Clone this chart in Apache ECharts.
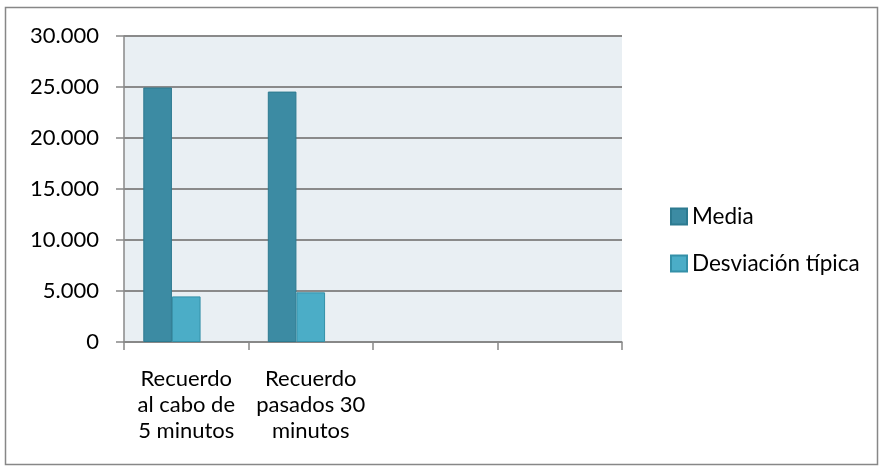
<!DOCTYPE html>
<html><head><meta charset="utf-8">
<script src="https://cdn.jsdelivr.net/npm/echarts@6/dist/echarts.min.js"></script>
<style>html,body{margin:0;padding:0;background:#fff}#c{width:882px;height:469px}</style>
</head><body><div id="c"></div>
<script>
var categories = ['Recuerdo\nal cabo de\n5 minutos', 'Recuerdo\npasados 30\nminutos', '', ''];
var media = [24950, 24550, null, null];
var desviacion = [4470, 4870, null, null];
var vacia = [null, null, null, null];
var yTicks = [0, 5000, 10000, 15000, 20000, 25000, 30000];

function fmt(v){ return String(v).replace(/\B(?=(\d{3})+(?!\d))/g, '.'); }

var chart = echarts.init(document.getElementById('c'));
var font = 'Lato, "Open Sans", sans-serif';
chart.setOption({
  animation: false,
  textStyle: {fontFamily: font},
  graphic: [{type: 'rect', shape: {x: 5.5, y: 7.5, width: 872, height: 457}, style: {fill: 'none', stroke: '#878787', lineWidth: 1.5}, z: -10}],
  grid: {left: 124, right: 260, top: 36, bottom: 127, backgroundColor: '#E9EFF3', show: true, borderWidth: 0},
  legend: {
    orient: 'vertical', left: 665, top: 200, itemGap: 24, itemWidth: 16, itemHeight: 16,
    data: ['Media', 'Desviación típica'],
    textStyle: {fontSize: 22.5, color: '#000', fontFamily: font, padding: [0, 0, 0, 0]},
    icon: 'rect'
  },
  xAxis: {
    type: 'category', data: categories,
    axisLine: {lineStyle: {color: '#888', width: 1.5}},
    axisTick: {show: true, length: 8, lineStyle: {color: '#888', width: 1.5}, alignWithLabel: false},
    axisLabel: {fontSize: 22, color: '#000', lineHeight: 26, margin: 24, interval: 0, fontFamily: font}
  },
  yAxis: {
    type: 'value', min: 0, max: 30000, interval: 5000,
    axisLine: {show: true, lineStyle: {color: '#888', width: 1.5}},
    axisTick: {show: true, length: 8, lineStyle: {color: '#888', width: 1.5}},
    splitLine: {lineStyle: {color: '#8a8a8a', width: 1.8}},
    axisLabel: {fontSize: 22, color: '#000', margin: 25, formatter: function(v){ return fmt(v); }, fontFamily: font}
  },
  series: [
    {name: 'Media', type: 'bar', data: media, barGap: 0, barCategoryGap: '31%',
     itemStyle: {color: '#3C8BA3', borderColor: '#2D7A90', borderWidth: 1}},
    {name: 'Desviación típica', type: 'bar', data: desviacion, barGap: 0, barCategoryGap: '31%',
     itemStyle: {color: '#4BADC7', borderColor: '#3490A8', borderWidth: 1}},
    {name: 'vacía', type: 'bar', data: vacia, barGap: 0, barCategoryGap: '31%'}
  ]
});
</script></body></html>
